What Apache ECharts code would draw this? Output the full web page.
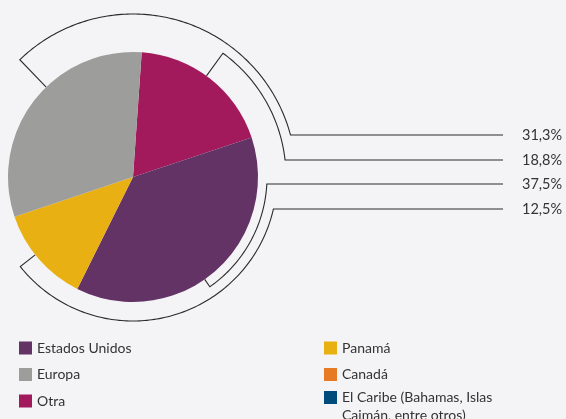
<!DOCTYPE html>
<html>
<head>
<meta charset="utf-8">
<script src="https://cdn.jsdelivr.net/npm/echarts@6/dist/echarts.min.js"></script>
<style>
  html, body { margin: 0; padding: 0; background: #f4f3f6; }
  #chart { width: 566px; height: 419px; }
</style>
</head>
<body>
<div id="chart"></div>
<script>
// pie order, clockwise from just right of the top
const regions = ['Otra', 'Estados Unidos', 'Panamá', 'Europa', 'Canadá', 'El Caribe (Bahamas, Islas Caimán, entre otros)']
const shares = [18.8, 37.5, 12.5, 31.3, 0, 0]
const colors = ['#a31a5c', '#633366', '#e8b012', '#9d9d9c', '#e77a25', '#004a7c']
const legendLeft = ['Estados Unidos', 'Europa', 'Otra']
const legendRight = ['Panamá', 'Canadá']
const legendWrap = ['El Caribe (Bahamas, Islas Caimán, entre otros)']
// order of the percentage labels on the right
const labelOrder = ['Europa', 'Otra', 'Estados Unidos', 'Panamá']

const cx = 133, cy = 177, R = 125
const font = 'Lato, "Open Sans", sans-serif'

// point at radius r, angle deg clockwise from 12 o'clock
function pt(r, deg) {
  const a = deg * Math.PI / 180
  return [cx + r * Math.sin(a), cy - r * Math.cos(a)]
}
function arcPts(r, from, to) {
  const out = []
  const step = from < to ? 1 : -1
  for (let d = from; step > 0 ? d <= to : d >= to; d += step) out.push(pt(r, d))
  out.push(pt(r, to))
  return out
}
function angleAtY(r, y) {
  return Math.acos((cy - y) / r) * 180 / Math.PI
}

const rowY = [135, 160, 184, 209]
const lineEnd = 503
// bracket: radius, angle of the radial tick (start of the bracket)
const brackets = [
  { r: 163, tick: 316, wrap: true },
  { r: 153, tick: 36 },
  { r: 134, tick: 145 },
  { r: 144, tick: 231.5 }
]

const graphics = []
brackets.forEach((b, i) => {
  const y = rowY[i]
  const a = angleAtY(b.r, y)
  const pts = [pt(R, b.tick)].concat(arcPts(b.r, b.tick, b.wrap ? 360 + a : a))
  pts.push([lineEnd, y])
  graphics.push({
    type: 'polyline',
    shape: { points: pts },
    style: { stroke: '#2b2b2b', lineWidth: 1.1, fill: null },
    silent: true
  })
  const v = shares[regions.indexOf(labelOrder[i])]
  graphics.push({
    type: 'text',
    x: 522, y: y,
    style: {
      text: v.toFixed(1).replace('.', ',') + '%',
      fill: '#333', font: '14.5px ' + font,
      verticalAlign: 'middle', align: 'left'
    }
  })
})

const legendBase = {
  orient: 'vertical',
  top: 341,
  height: 150,
  padding: 0,
  icon: 'rect',
  itemWidth: 13,
  itemHeight: 13,
  itemGap: 12.5,
  selectedMode: false,
  textStyle: { color: '#333', fontSize: 14, fontFamily: font }
}

const chart = echarts.init(document.getElementById('chart'))
chart.setOption({
  backgroundColor: '#f4f3f6',
  animation: false,
  legend: [
    Object.assign({}, legendBase, { left: 19, data: legendLeft }),
    Object.assign({}, legendBase, { left: 324, data: legendRight }),
    // two-line item: a blank first line keeps the text's first line level with the icon
    Object.assign({}, legendBase, {
      left: 324,
      top: 370.5,
      data: legendWrap,
      formatter: name => '\n' + name.replace('Islas ', 'Islas\n'),
      textStyle: { color: '#333', fontSize: 14, fontFamily: font, lineHeight: 18 }
    })
  ],
  graphic: graphics,
  series: [{
    type: 'pie',
    center: [cx, cy],
    radius: R,
    startAngle: 86,
    clockwise: true,
    label: { show: false },
    labelLine: { show: false },
    emphasis: { disabled: true },
    itemStyle: { borderWidth: 0 },
    data: regions.map((n, i) => ({ name: n, value: shares[i], itemStyle: { color: colors[i] } }))
  }]
})
</script>
</body>
</html>
